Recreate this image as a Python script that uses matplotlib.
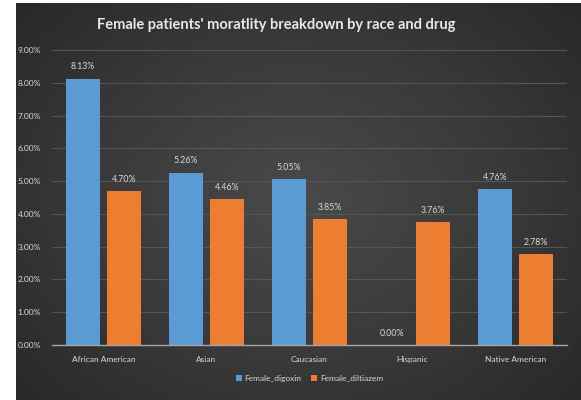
import numpy as np
import matplotlib.pyplot as plt
import matplotlib.ticker as ticker
from matplotlib.colors import LinearSegmentedColormap

races = ["African American", "Asian", "Caucasian", "Hispanic", "Native American"]
digoxin = [8.13, 5.26, 5.05, 0.00, 4.76]
diltiazem = [4.70, 4.46, 3.85, 3.76, 2.78]
series_names = ["Female_digoxin", "Female_diltiazem"]

BLUE = "#5B9BD5"
ORANGE = "#ED7D31"
TEXT = "#d9d9d9"
FONT = ["Lato", "DejaVu Sans"]

plt.rcParams["font.family"] = FONT

fig = plt.figure(figsize=(5.81, 4.0), dpi=100)
fig.patch.set_facecolor("white")

# dark panel with a soft radial glow
bg = fig.add_axes([16 / 581, 0, 1 - 16 / 581, 397 / 400])
yy, xx = np.mgrid[-1:1:200j, -1:1:300j]
r = np.sqrt(xx ** 2 + (yy * 0.9) ** 2)
cmap = LinearSegmentedColormap.from_list("panel", ["#4a4a4a", "#3a3a3a", "#272727"])
bg.imshow(r, cmap=cmap, aspect="auto", extent=[0, 1, 0, 1], vmin=0, vmax=1.4)
bg.set_axis_off()

ax = fig.add_axes([52 / 581, 1 - 345 / 400, 515 / 581, 295 / 400])
ax.set_facecolor("none")

x = np.arange(len(races))
w = 0.33
b1 = ax.bar(x - 0.2, digoxin, w, color=BLUE, label=series_names[0], zorder=3)
b2 = ax.bar(x + 0.2, diltiazem, w, color=ORANGE, label=series_names[1], zorder=3)

for bars, vals in [(b1, digoxin), (b2, diltiazem)]:
    for bar, v in zip(bars, vals):
        ax.text(bar.get_x() + bar.get_width() / 2, v + 0.22, f"{v:.2f}%",
                ha="center", va="bottom", fontsize=6.3, color=TEXT)

ax.set_xlim(-0.5, len(races) - 0.5)
ax.set_ylim(0, 9)
ax.yaxis.set_major_locator(ticker.MultipleLocator(1))
ax.yaxis.set_major_formatter(ticker.FuncFormatter(lambda v, _: f"{v:.2f}%"))
ax.set_xticks(x)
ax.set_xticklabels(races)
ax.tick_params(axis="both", length=0, labelsize=6, colors=TEXT)
ax.tick_params(axis="x", pad=8)
ax.tick_params(axis="y", pad=8)
ax.grid(axis="y", color="#555555", linewidth=0.8, zorder=0)
for s in ["top", "right", "left"]:
    ax.spines[s].set_visible(False)
ax.spines["bottom"].set_color("#a6a6a6")
ax.spines["bottom"].set_linewidth(1.0)
ax.spines["bottom"].set_zorder(4)

fig.text(0.475, 0.937, "Female patients' moratlity breakdown by race and drug",
         ha="center", va="center", fontsize=10.5, fontweight="bold", color="#e8e8e8")

leg = ax.legend(loc="upper center", bbox_to_anchor=(0.5, -0.075), ncol=2, frameon=False,
                fontsize=6, handlelength=0.7, handleheight=0.7, handletextpad=0.3,
                columnspacing=1.2)
for t in leg.get_texts():
    t.set_color(TEXT)

fig.savefig("out.png", dpi=100)
